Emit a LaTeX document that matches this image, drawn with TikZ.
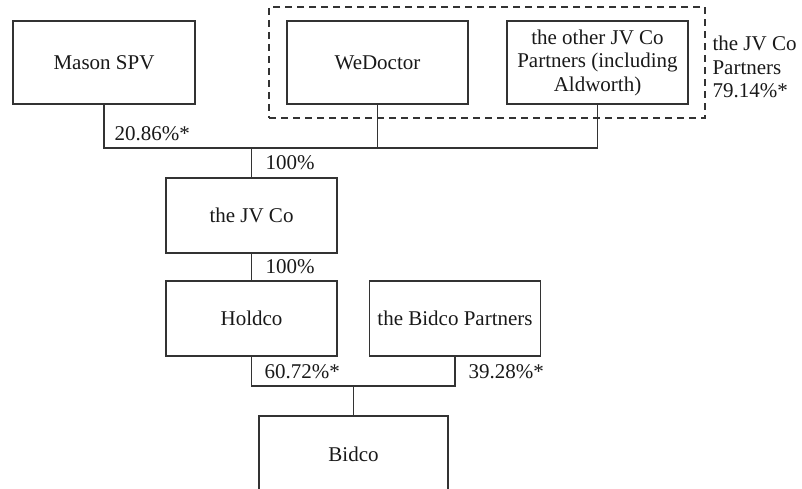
\documentclass[tikz,border=0pt]{standalone}
\usepackage{fontspec}
\setmainfont{Liberation Serif}
\begin{document}
\begin{tikzpicture}[x=1pt,y=-1pt,
  line width=1.1pt,
  every node/.style={font=\fontsize{21}{23.5}\selectfont, text=black!90},
  box/.style={draw=black!80, rectangle, inner sep=2pt, align=center},
  pct/.style={anchor=west, inner sep=0pt},
  link/.style={draw=black!80}]
\useasboundingbox (0,0) rectangle (802,489);
\clip (0,0) rectangle (802,489);
\node[box, minimum width=182pt, minimum height=83pt] (mason) at (104,62.5) {Mason SPV};
\node[box, minimum width=181pt, minimum height=83pt] (wedoc) at (377.5,62.5) {WeDoctor};
\node[box, minimum width=181pt, minimum height=83pt] (other) at (597.5,62.5) {the other JV Co\\Partners (including\\Aldworth)};
\node[draw=black!80, dash pattern=on 7pt off 5pt, minimum width=436pt, minimum height=111pt, inner sep=0pt] (group) at (487,62.5) {};
\node[anchor=west, align=left, inner sep=0pt] (grouplbl) at (712,67) {the JV Co\\Partners\\79.14\%*};
\node[box, minimum width=171pt, minimum height=75pt] (jvco) at (251.5,215.5) {the JV Co};
\node[box, minimum width=171pt, minimum height=75pt] (holdco) at (251.5,318.5) {Holdco};
\node[box, minimum width=171pt, minimum height=75pt] (bidcop) at (455,318.5) {the Bidco Partners};
\node[box, minimum width=189pt, minimum height=76pt] (bidco) at (353.5,454) {Bidco};
\coordinate (bar1) at (251.5,148);
\coordinate (bar2) at (353.5,386);
\draw[link] (mason.south) |- (bar1) -| (other.south);
\draw[link] (wedoc.south) -- (wedoc.south |- bar1);
\draw[link] (bar1) -- (jvco.north);
\draw[link] (jvco.south) -- (holdco.north);
\draw[link] (holdco.south) |- (bar2) -| (bidcop.south);
\draw[link] (bar2) -- (bidco.north);
\node[pct] (p1) at (114,134) {20.86\%*};
\node[pct] (p2) at (265,163) {100\%};
\node[pct] (p3) at (265,267) {100\%};
\node[pct] (p4) at (264,372) {60.72\%*};
\node[pct] (p5) at (468,372) {39.28\%*};
\end{tikzpicture}
\end{document}
